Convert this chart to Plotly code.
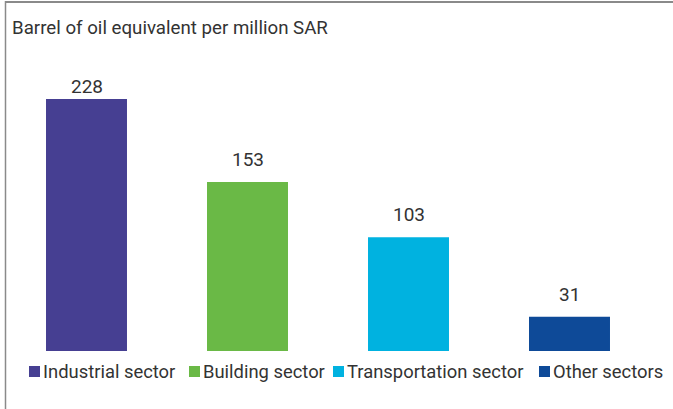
import plotly.graph_objects as go

categories = ["Industrial sector", "Building sector", "Transportation sector", "Other sectors"]
values = [228, 153, 103, 31]
colors = ["#463F92", "#6AB946", "#00B2E0", "#0E4A98"]
title_text = "Barrel of oil equivalent per million SAR"

W, H = 673, 409
L, R, T, B = 6, 23, 99, 58
pw, ph = W - L - R, H - T - B
FONT = "Roboto"
TXT = "#333333"

def px(x):
    return (x - L) / pw

def py(y):
    return (H - B - y) / ph

fig = go.Figure()
for cat, val, col in zip(categories, values, colors):
    fig.add_trace(go.Bar(x=[cat], y=[val], marker=dict(color=col, line=dict(width=0)),
                         width=0.503, showlegend=False, hoverinfo="x+y"))

annotations = []
# value labels
for i, (cat, val) in enumerate(zip(categories, values)):
    annotations.append(dict(x=cat, y=val, xref="x", yref="y", text=str(val), showarrow=False,
                            yanchor="bottom", yshift=-1 if i == 0 else 9,
                            font=dict(family=FONT, size=19, color=TXT)))
# title
annotations.append(dict(x=px(10), y=py(28), xref="paper", yref="paper", text=title_text,
                        showarrow=False, xanchor="left", yanchor="middle",
                        font=dict(family=FONT, size=18.7, color=TXT)))
# custom legend
sq_left = [29, 189, 333, 539]
shapes = []
for cat, col, sx in zip(categories, colors, sq_left):
    shapes.append(dict(type="rect", xref="paper", yref="paper", x0=px(sx), x1=px(sx + 11),
                       y0=py(377), y1=py(366), fillcolor=col, line=dict(width=0)))
    annotations.append(dict(x=px(sx + 12), y=py(371.5), xref="paper", yref="paper", text=cat,
                            showarrow=False, xanchor="left", yanchor="middle",
                            font=dict(family=FONT, size=18.4, color=TXT)))
# frame lines (top and left)
shapes.append(dict(type="line", xref="paper", yref="paper", x0=px(5), x1=px(W),
                   y0=py(2), y1=py(2), line=dict(color="#8a8a8a", width=2)))
shapes.append(dict(type="line", xref="paper", yref="paper", x0=px(5.5), x1=px(5.5),
                   y0=py(1), y1=py(H), line=dict(color="#8a8a8a", width=1.5)))

fig.update_layout(
    width=W, height=H,
    margin=dict(l=L, r=R, t=T, b=B, pad=0),
    paper_bgcolor="white", plot_bgcolor="white",
    barmode="relative",
    xaxis=dict(visible=False, range=[-0.5, 3.5]),
    yaxis=dict(visible=False, range=[0, 228]),
    annotations=annotations, shapes=shapes,
    showlegend=False,
)

fig.write_html("out.html", config={"displayModeBar": False},
               post_script="document.body.style.margin='0';document.body.style.overflow='hidden';")
